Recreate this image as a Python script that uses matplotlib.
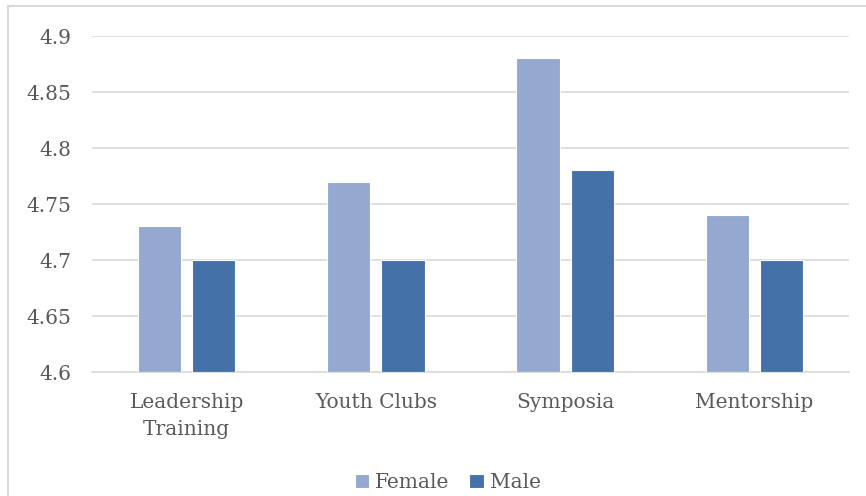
import matplotlib.pyplot as plt
from matplotlib.patches import Rectangle
import numpy as np

categories = ["Leadership\nTraining", "Youth Clubs", "Symposia", "Mentorship"]
female = [4.73, 4.77, 4.88, 4.74]
male = [4.70, 4.70, 4.78, 4.70]
yticks = [4.6, 4.65, 4.7, 4.75, 4.8, 4.85, 4.9]
ytick_labels = ["4.6", "4.65", "4.7", "4.75", "4.8", "4.85", "4.9"]

plt.rcParams["font.family"] = ["DejaVu Serif"]
text_color = "#595959"
grid_color = "#d9d9d9"

fig = plt.figure(figsize=(8.66, 4.96), dpi=100)
ax = fig.add_axes([0.1062, 0.25, 0.8742, 0.6774])

x = np.arange(len(categories))
w = 0.228
off = 0.143
base = 4.6
ax.bar(x - off, np.array(female) - base, w, bottom=base, color="#95a9d0",
       edgecolor="white", linewidth=0.8, label="Female", zorder=3)
ax.bar(x + off, np.array(male) - base, w, bottom=base, color="#4472a8",
       edgecolor="white", linewidth=0.8, label="Male", zorder=3)

ax.set_xlim(-0.5, len(categories) - 0.5)
ax.set_ylim(4.6, 4.9)
ax.set_yticks(yticks)
ax.set_yticklabels(ytick_labels)
ax.set_xticks(x)
ax.set_xticklabels(categories, linespacing=1.55)
ax.yaxis.grid(True, color=grid_color, linewidth=1.2, zorder=0)
ax.tick_params(axis="y", length=0, pad=15, labelsize=14.5, labelcolor=text_color)
ax.tick_params(axis="x", length=0, pad=15, labelsize=14.5, labelcolor=text_color)
for side in ["top", "right", "left"]:
    ax.spines[side].set_visible(False)
ax.spines["bottom"].set_color(grid_color)
ax.spines["bottom"].set_linewidth(1.2)

leg = fig.legend(loc="center", bbox_to_anchor=(0.517, 0.027), ncol=2, frameon=False,
                 fontsize=14.5, handlelength=0.7, handleheight=0.7,
                 handletextpad=0.3, columnspacing=1.0)
for t in leg.get_texts():
    t.set_color(text_color)

# light frame around the chart area
fig.patches.append(Rectangle((8 / 866, -0.1), 1.2, 1 - 6 / 496 + 0.1,
                             transform=fig.transFigure, fill=False,
                             edgecolor=grid_color, linewidth=1.5))

fig.savefig("out.png", dpi=100)
